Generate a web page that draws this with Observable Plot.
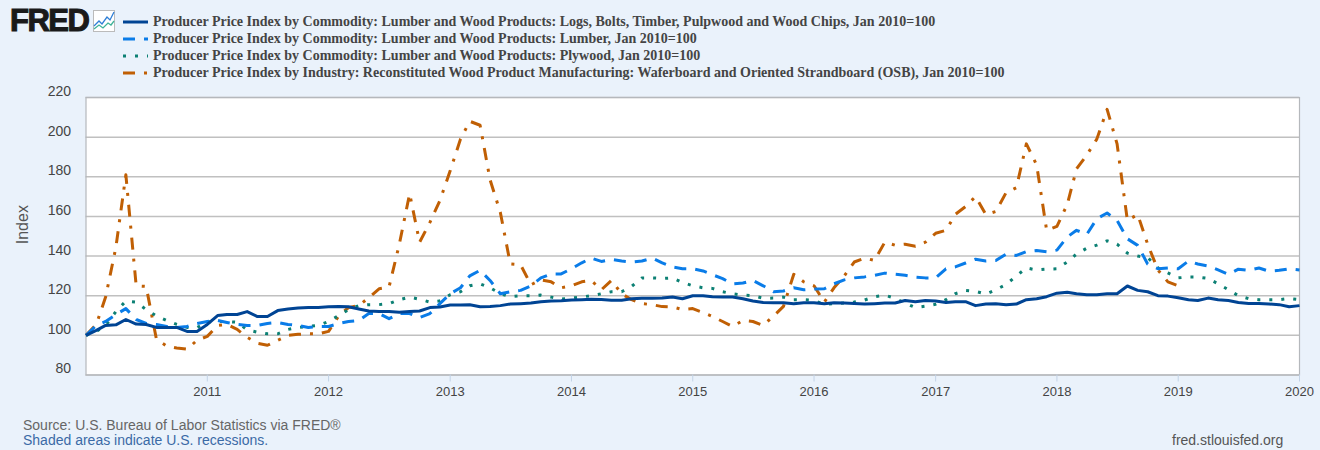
<!DOCTYPE html>
<html><head><meta charset="utf-8">
<script src="https://cdn.jsdelivr.net/npm/d3@7"></script>
<script src="https://cdn.jsdelivr.net/npm/@observablehq/plot@0.6"></script>
<style>
html,body{margin:0;padding:0;background:#eaf2fb;width:1320px;height:450px;overflow:hidden}
#page{position:relative;width:1320px;height:450px}
#logo{position:absolute;left:10px;top:4px;font:900 31px "Liberation Sans",Arial,sans-serif;color:#1a1a1a;-webkit-text-stroke:1.1px #1a1a1a;letter-spacing:-1.5px;line-height:34px;transform-origin:0 0;transform:scaleX(1)}
#icon{position:absolute;left:93px;top:10px}
#legend{position:absolute;left:123px;top:13px}
.row{height:17px;display:flex;align-items:center;font:bold 14px "Liberation Serif","Times New Roman",serif;color:#444;white-space:nowrap}
.row svg{margin-right:5px;flex:none}
#chart{position:absolute;left:0;top:90px}
#chart svg{display:block;background:transparent}
#source{position:absolute;left:23px;top:418px;font:14px/15px "Liberation Sans",Arial,sans-serif;color:#666}
#source span{color:#3b6aa6;display:block}
#url{position:absolute;left:1172px;top:433px;font:14px/15px "Liberation Sans",Arial,sans-serif;color:#555}
</style></head><body>
<div id="page">
<div id="logo">FRED</div>
<svg id="icon" width="22" height="22" viewBox="0 0 22 22"><rect x=".5" y=".5" width="21" height="21" fill="#fff" stroke="#bbb"/><polyline points="1,16 6,11 9,14 14,7 17,10 21,2" fill="none" stroke="#2f7fd6" stroke-width="1.3"/><polyline points="1,19 6,15 10,18 15,13 18,15 21,11" fill="none" stroke="#3fb39a" stroke-width="1.3"/></svg>
<div id="legend"></div>
<div id="chart"></div>
<div id="source">Source: U.S. Bureau of Labor Statistics via FRED®<span>Shaded areas indicate U.S. recessions.</span></div>
<div id="url">fred.stlouisfed.org</div>
</div>
<script>
const logs = [
 100,102.5,105,105.3,108,105.7,105.5,104,104,104,102,102,
 105.5,110,110.5,110.5,112,109.5,109.5,112.5,113.3,113.8,114,114,
 114.4,114.6,114.4,113.3,112.3,112,112,111.7,112,112.3,114,114.3,
 115.3,115.3,115.4,114.4,114.6,115,115.8,116,116.3,117,117.3,117.4,
 117.8,118,118.2,118.1,117.7,117.7,118.5,118.7,118.7,118.8,119.4,118.5,
 120,120,119.5,119.3,119.3,118.5,117.3,116.6,116.4,116.4,116,116.4,
 116.5,116,116.4,116.3,116.1,115.8,116,116.3,116.3,117.6,117,117.6,
 117.3,116.6,117,117,115,115.8,116,115.5,115.8,118,118.5,119.5,
 121.3,121.7,121,120.5,120.5,121,121,124.9,122.7,122,120,119.8,
 119,118,117.6,118.8,118,117.6,116.6,116.1,116.1,115.8,115.5,114.4,
 115];
const lumber = [
 100,105,107,110.5,113.5,108,106,105.5,104.5,104,104.5,106,
 107,107.5,106.5,105.5,105,105,106,106.5,105.5,105,104,104.5,
 104.5,106,107,107.5,111,111,108.4,111,111,109,111,116,
 121,124,130,132.8,127.7,121,122,122.7,125,129,131,131,
 133.6,136.6,139,137.3,138.3,137.5,137,137.5,139,136.6,134.5,133.6,
 133.6,132.5,130.6,128.6,126,126.4,127.7,125,122,122.4,124,123,
 123.4,123.5,126,128,129,129.5,130.3,131.4,130.8,130.3,129.4,129,
 129,133.6,134.5,136.5,138.4,137.5,137.8,141,140.3,142.3,142.8,142.2,
 143,149.6,153,151,158.8,161.7,158,148.7,145.4,136,133.6,134,
 133.6,137.5,136,135,133,130.8,133.4,132.8,134,132.4,132.8,133.6,
 133];
const plywood = [
 100,102,105,112,117.3,116.8,113,109.8,107.5,105.5,104,103.9,
 106.7,107,107,106.6,102.8,101.6,100.8,100.8,103,104,104.5,105,
 107,110,113,115,115.5,115.5,116,118,119.3,118.2,116.8,117.4,
 120.5,122,125,126,124,121,119.5,120,120,120.3,119.3,118.3,
 118.8,119.4,120,121,122,122,124.7,129,129,128.7,129,126.7,
 125,124,123.7,122,121,120.3,120,118.7,118.8,119.3,118,118,
 117.6,115.6,116,116.3,116.8,117.8,119.5,120.3,118.7,116.3,114,114.7,
 115.7,118,121,122.6,122.2,120.8,123,125.7,130,134,133,133.4,
 133.6,137,141,144,145.5,147.7,146,141.5,140,139.3,134,131.5,
 129,129.4,129.4,128.7,126,123,120,118.5,118,118,118,118.6,
 118];
const osb = [
 100,105.5,119.3,144.5,181,125,124.7,98,94.6,93.6,93,97.5,
 99.5,105,105.5,103,99,96,95,97.5,100,100.5,100.8,100.7,
 102,110,114,115,119,123.5,124.4,146,171.5,147,157,168,
 183,199,208,206,178.5,162,136,135.6,125.5,128,127,124,
 125,127,127.7,123,127.7,121,118,116,115.5,114.5,114.3,113,
 113.5,111.5,109.5,107,104.5,107.5,107,105,109.7,114.6,130.8,127,
 125,116.8,124,130,137,139,137.8,147,145.5,146,145,147,
 151.5,153,161,165,170,161,162.5,172,174.5,196.6,186,153,
 155,166,184,191,199,214,196.6,158,161,146,133,127,
 125];
const names = [
 "Producer Price Index by Commodity: Lumber and Wood Products: Logs, Bolts, Timber, Pulpwood and Wood Chips, Jan 2010=100",
 "Producer Price Index by Commodity: Lumber and Wood Products: Lumber, Jan 2010=100",
 "Producer Price Index by Commodity: Lumber and Wood Products: Plywood, Jan 2010=100",
 "Producer Price Index by Industry: Reconstituted Wood Product Manufacturing: Waferboard and Oriented Strandboard (OSB), Jan 2010=100"];
const colors = ["#004494","#0a7ce8","#0c8074","#c05f04"];
const dashes = ["none","12 9","3 9","12 9 3 9"];
const yTicks = [80,100,120,140,160,180,200,220];
const xTickYears = [2011,2012,2013,2014,2015,2016,2017,2018,2019,2020];

const month = i => new Date(Date.UTC(2010, i, 1));
const table = values => values.map((v, i) => ({date: month(i), value: v}));
const series = [logs, lumber, plywood, osb];

const legend = document.getElementById("legend");
names.forEach((n, i) => {
  const r = document.createElement("div"); r.className = "row";
  r.innerHTML = `<svg width="25" height="4"><line x1="0" x2="25" y1="2" y2="2" stroke="${colors[i]}" stroke-width="3" stroke-dasharray="${dashes[i]}"/></svg><span>${n}</span>`;
  legend.appendChild(r);
});

const tickDates = xTickYears.map(y => new Date(Date.UTC(y, 0, 1)));
const plot = Plot.plot({
  width: 1320, height: 316,
  marginLeft: 85.5, marginRight: 21, marginTop: 7, marginBottom: 31.5,
  style: {background: "transparent", overflow: "visible"},
  x: {type: "utc", domain: [month(0), new Date(Date.UTC(2020,0,1))], label: null},
  y: {domain: [80, 220], label: null},
  marks: [
    Plot.frame({fill: "#fff", stroke: "none"}),
    Plot.gridY(yTicks, {stroke: "#c0c0c0", strokeWidth: 1.5, strokeOpacity: 1}),
    Plot.frame({stroke: "#b5b8bc", strokeWidth: 1.2}),
    Plot.axisY({ticks: yTicks, tickSize: 0, tickPadding: 15, dy: -6, fontSize: 14, fill: "#444", label: null}),
    Plot.axisX({ticks: tickDates, tickSize: 7, tickPadding: 5, fontSize: 13, fill: "#444", stroke: "#c3d3e6", label: null, tickFormat: d => String(d.getUTCFullYear())}),
    Plot.text(["Index"], {frameAnchor: "left", dx: -63, dy: 8, rotate: -90, fontSize: 16, fill: "#555", fontFamily: "Liberation Sans"}),
    ...[3,2,1,0].map(i => Plot.line(table(series[i]), {x: "date", y: "value", stroke: colors[i], strokeWidth: 3, strokeDasharray: dashes[i], strokeLinejoin: "round", strokeLinecap: "butt"}))
  ]
});
plot.style.fontFamily = '"Liberation Sans",Arial,sans-serif';
document.getElementById("chart").appendChild(plot);
</script>
</body></html>
